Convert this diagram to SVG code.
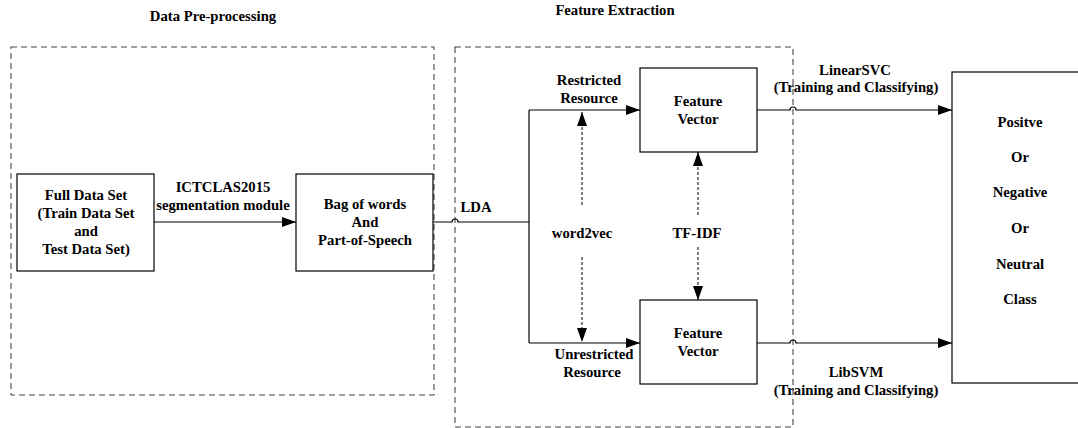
<svg xmlns="http://www.w3.org/2000/svg" width="1078" height="428" viewBox="0 0 1078 428">
  <style>
    text { font-family: "Liberation Serif", "Times New Roman", serif; font-weight: bold; font-size: 14.7px; fill: #000; text-anchor: middle; }
    .box { fill: #fff; stroke: #000; stroke-width: 1.2; }
    .group { fill: none; stroke: #444; stroke-width: 1.1; stroke-dasharray: 6 4; }
    .line { fill: none; stroke: #000; stroke-width: 1.2; }
    .dash { fill: none; stroke: #000; stroke-width: 1; stroke-dasharray: 3 2; }
  </style>
  <defs>
    <marker id="arrow" viewBox="0 0 14 10" refX="14" refY="5" markerWidth="14" markerHeight="10" markerUnits="userSpaceOnUse" orient="auto">
      <path d="M0,0 L14,5 L0,10 Z" fill="#000"/>
    </marker>
  </defs>

  <!-- stage frames -->
  <g id="stage-preprocessing">
    <rect class="group" x="11" y="47" width="423" height="348"/>
    <text x="213" y="21">Data Pre-processing</text>
  </g>
  <g id="stage-extraction">
    <rect class="group" x="455" y="47" width="338" height="380"/>
    <text x="615" y="15">Feature Extraction</text>
  </g>

  <!-- nodes -->
  <g id="full-data-set">
    <rect class="box" x="17" y="174" width="137" height="97"/>
    <text x="86" y="200">Full Data Set</text>
    <text x="86" y="218">(Train Data Set</text>
    <text x="86" y="236">and</text>
    <text x="86" y="254">Test Data Set)</text>
  </g>
  <g id="bag-of-words">
    <rect class="box" x="296" y="174" width="137" height="97"/>
    <text x="365" y="209">Bag of words</text>
    <text x="365" y="227">And</text>
    <text x="365" y="245">Part-of-Speech</text>
  </g>
  <g id="feature-vector-restricted">
    <rect class="box" x="640" y="68" width="117" height="84"/>
    <text x="698" y="106">Feature</text>
    <text x="698" y="124">Vector</text>
  </g>
  <g id="feature-vector-unrestricted">
    <rect class="box" x="640" y="300" width="117" height="84"/>
    <text x="698" y="338">Feature</text>
    <text x="698" y="356">Vector</text>
  </g>
  <g id="sentiment-class">
    <rect class="box" x="952" y="72" width="140" height="311"/>
    <text x="1020" y="127">Positve</text>
    <text x="1020" y="162">Or</text>
    <text x="1020" y="197">Negative</text>
    <text x="1020" y="233">Or</text>
    <text x="1020" y="269">Neutral</text>
    <text x="1020" y="304">Class</text>
  </g>

  <!-- connectors -->
  <g id="connectors">
    <path class="line" d="M154,222 L296,222" marker-end="url(#arrow)"/>
    <path class="line" d="M433,222 L452,222 A3,3 0 0 1 458,222 L529,222"/>
    <path class="line" d="M529,110 L529,343"/>
    <path class="line" d="M529,110 L640,110" marker-end="url(#arrow)"/>
    <path class="line" d="M529,343 L640,343" marker-end="url(#arrow)"/>
    <path class="dash" d="M582,205 L582,112" marker-end="url(#arrow)"/>
    <path class="dash" d="M582,257 L582,342" marker-end="url(#arrow)"/>
    <path class="dash" d="M698,215 L698,152" marker-end="url(#arrow)"/>
    <path class="dash" d="M698,247 L698,300" marker-end="url(#arrow)"/>
    <path class="line" d="M757,110 L790,110 A3,3 0 0 1 796,110 L952,110" marker-end="url(#arrow)"/>
    <path class="line" d="M757,343 L790,343 A3,3 0 0 1 796,343 L952,343" marker-end="url(#arrow)"/>
  </g>

  <!-- connector labels -->
  <g id="labels">
    <text x="223" y="192">ICTCLAS2015</text>
    <text x="223" y="210">segmentation module</text>
    <text x="476" y="212">LDA</text>
    <text x="589" y="85">Restricted</text>
    <text x="589" y="103">Resource</text>
    <text x="594" y="359">Unrestricted</text>
    <text x="592" y="377">Resource</text>
    <text x="582" y="238">word2vec</text>
    <text x="697" y="238">TF-IDF</text>
    <text x="855" y="75">LinearSVC</text>
    <text x="856" y="92">(Training and Classifying)</text>
    <text x="856" y="377">LibSVM</text>
    <text x="856" y="395">(Training and Classifying)</text>
  </g>
</svg>
